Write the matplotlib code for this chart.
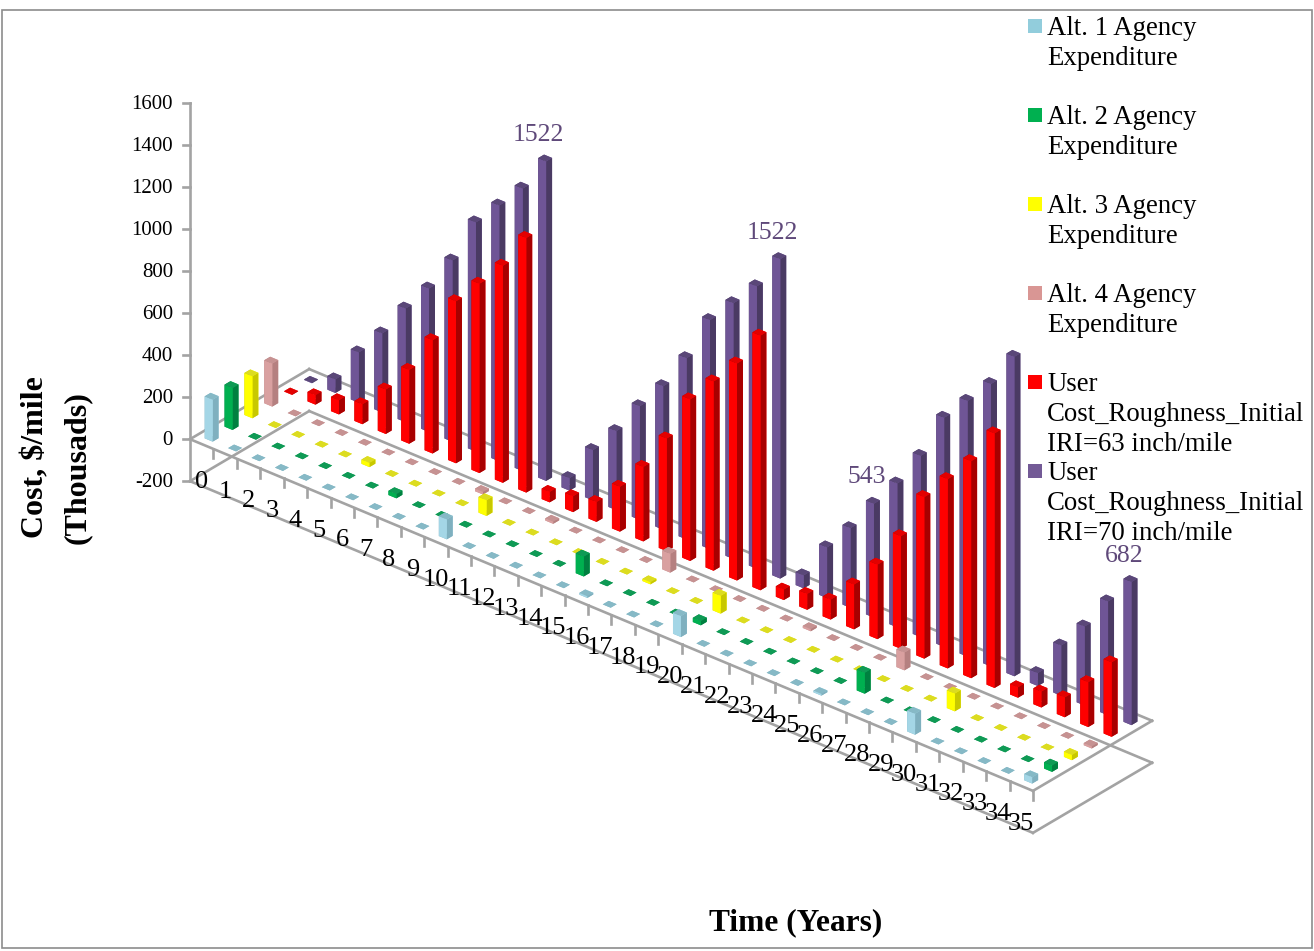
import matplotlib
matplotlib.use('Agg')
import matplotlib.pyplot as plt
from matplotlib.patches import Rectangle
from mpl_toolkits.mplot3d import proj3d

plt.rcParams['font.family'] = 'Liberation Serif'

# values ($/mile, thousands), one per year 0-35
years = list(range(36))
alt1 = [200, 0, 0, 0, 0, 0, 0, 0, 0, 0, 95, 0, 0, 0, 0, 0, 8, 0, 0, 0, 100, 0, 0, 0, 0, 0, 8, 0, 0, 0, 100, 0, 0, 0, 0, 30]
alt2 = [200, 0, 0, 0, 0, 0, 0, 20, 0, 0, 0, 0, 0, 0, 0, 95, 0, 0, 0, 0, 20, 0, 0, 0, 0, 0, 0, 100, 0, 0, 0, 0, 0, 0, 0, 30]
alt3 = [200, 0, 0, 0, 0, 20, 0, 0, 0, 0, 75, 0, 0, 0, 0, 0, 0, 10, 0, 0, 85, 0, 0, 0, 0, 0, 0, 0, 0, 0, 85, 0, 0, 0, 0, 25]
alt4 = [205, 0, 0, 0, 0, 0, 0, 0, 0, 12, 0, 0, 10, 0, 0, 0, 0, 90, 0, 0, 0, 0, 0, 10, 0, 0, 0, 85, 0, 0, 0, 0, 0, 0, 0, 10]
user63 = [2, 45, 68, 95, 212, 352, 540, 772, 902, 1034, 1213,
          50, 76, 95, 214, 355, 537, 770, 902, 1034, 1213,
          50, 76, 95, 214, 355, 537, 770, 902, 1034, 1213,
          50, 76, 95, 214, 355]
user70 = [2, 65, 240, 377, 542, 684, 864, 1092, 1219, 1346, 1522,
          60, 240, 377, 542, 684, 864, 1092, 1219, 1346, 1522,
          62, 242, 380, 543, 686, 864, 1092, 1219, 1346, 1522,
          62, 240, 377, 543, 682]

series = [alt1, alt2, alt3, alt4, user63, user70]
legendLines = [['Alt. 1 Agency', 'Expenditure'],
               ['Alt. 2 Agency', 'Expenditure'],
               ['Alt. 3 Agency', 'Expenditure'],
               ['Alt. 4 Agency', 'Expenditure'],
               ['User', 'Cost_Roughness_Initial', 'IRI=63 inch/mile'],
               ['User', 'Cost_Roughness_Initial', 'IRI=70 inch/mile']]
zTicks = list(range(-200, 1601, 200))
labelled = [(10, 1522), (20, 1522), (24, 543), (35, 682)]

# colours: front face, side face, top face
legendColors = ['#92CDDC', '#00B050', '#FFFF00', '#D99694', '#FF0000', '#735A96']
sideColors = ['#7FB0BF', '#008040', '#C8C800', '#B58080', '#A80000', '#4A3A63']
topColors = ['#86B9C6', '#0F9A55', '#DCDC20', '#C69292', '#E30000', '#5A4778']
frontColors = ['#A4D6E6', '#00B050', '#FFFF00', '#D9A0A0', '#FF0000', '#6F5596']
lineColor = '#A3A3A3'
labelColor = '#5F497A'

fig = plt.figure(figsize=(13.14, 9.51), dpi=100, facecolor='white')

# big square 3D axes, hanging off the figure, orthographic so the floor is a parallelogram
S = 1500
ax = fig.add_axes([-99.2 / 1314, -252.3 / 951, S / 1314, S / 951], projection='3d', computed_zorder=False)
ax.set_proj_type('ortho')
ax.view_init(elev=29.7, azim=-49.9)
ax.set_xlim(0, 36, view_margin=0)
ax.set_ylim(0, 6, view_margin=0)
ax.set_zlim(-200, 1600, view_margin=0)
ax.set_box_aspect((1102, 185, 435), zoom=1164.05 / S)
ax.set_axis_off()


def edge(xs, ys, zs):
    ax.plot(xs, ys, zs, color=lineColor, linewidth=1.9, zorder=1, solid_capstyle='projecting')


def label(x, y, z, s, **kwargs):
    # project by hand so the text stays a plain 2D text
    px, py, _ = proj3d.proj_transform(x, y, z, ax.get_proj())
    ax.text2D(px, py, s, transform=ax.transData, ha='center', va='center', **kwargs)


for z in (0, -200):
    edge([0, 36], [0, 0], [z, z])
    edge([0, 36], [6, 6], [z, z])
    edge([0, 0], [0, 6], [z, z])
    edge([36, 36], [0, 6], [z, z])
edge([0, 0], [0, 0], [-200, 1600])

for k in range(1, 37):
    edge([k, k], [0, 0], [0, -43])

# one px left on screen is -0.025 year and -0.0209 series
for z in zTicks:
    edge([0, -0.025 * 7], [0, -0.0209 * 7], [z, z])
    px, py, _ = proj3d.proj_transform(-0.025 * 17, -0.0209 * 17, z - 6, ax.get_proj())
    ax.text2D(px, py, str(z), transform=ax.transData, ha='right', va='center', fontsize=15, color='black', zorder=950)

for k in years:
    label(k + 0.5, 0, -180, str(k), fontsize=19, color='black', zorder=950)

# back series first, early years first, so the nearer bars paint over
barW = 0.34
barD = 0.30
for s in range(5, -1, -1):
    for k in years:
        faces = [topColors[s], topColors[s], frontColors[s], frontColors[s], sideColors[s], sideColors[s]]
        ax.bar3d(k + 0.5 - barW / 2, s + 0.5 - barD / 2, 0, barW, barD, series[s][k],
                 color=faces, shade=False, edgecolor='none', zorder=10 + (5 - s) * 100 + k)

for k, v in labelled:
    label(k + 0.22, 5.5, v + 96, str(v), fontsize=18.5, color=labelColor, zorder=950)

# flat overlay in pixel coordinates for the frame, legend and axis titles
over = fig.add_axes([0, 0, 1, 1])
over.set_xlim(0, 1314)
over.set_ylim(951, 0)
over.axis('off')
over.add_patch(Rectangle((2, 10), 1310, 938, fill=False, edgecolor='#8C8C8C', linewidth=1.2))

baseline = 35
for lines, c in zip(legendLines, legendColors):
    over.add_patch(Rectangle((1028, baseline - 16), 14, 14, facecolor=c, edgecolor='none'))
    for i, line in enumerate(lines):
        over.text(1047, baseline + i * 30, line, fontsize=19.3, va='baseline', ha='left', color='black')
    baseline += 89

over.text(43, 457.5, 'Cost, $/mile', rotation=90, rotation_mode='anchor', fontsize=23, fontweight='bold',
          ha='center', va='baseline')
over.text(85, 468, '(Thousads)', rotation=90, rotation_mode='anchor', fontsize=23, fontweight='bold',
          ha='center', va='baseline')
over.text(796, 923, 'Time (Years)', fontsize=22.6, fontweight='bold', ha='center', va='center')

plt.savefig('out.png', dpi=100)
plt.close()
